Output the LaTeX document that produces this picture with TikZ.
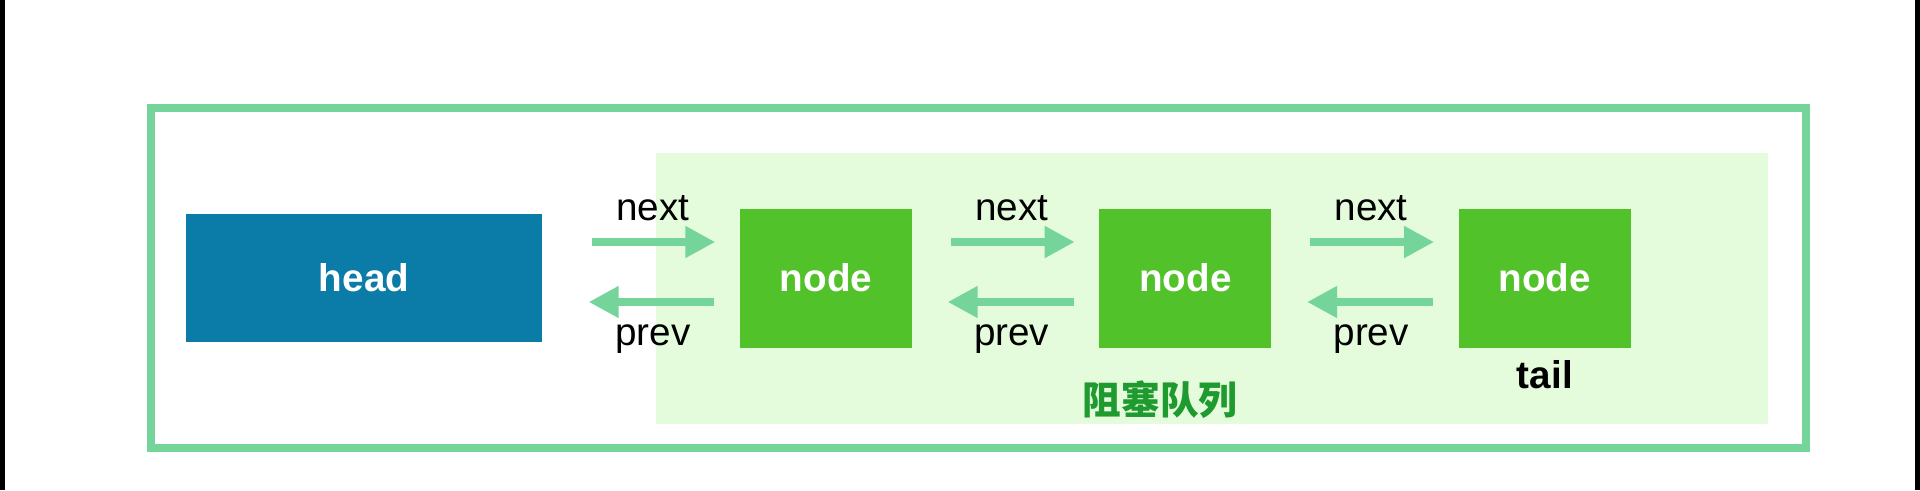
\documentclass[tikz,border=0pt]{standalone}
\usepackage{fontspec}
\setmainfont{Liberation Sans}
\newfontfamily\cjkfont{Noto Sans CJK SC}
\usepackage{xcolor}
\usetikzlibrary{arrows.meta, positioning}
\definecolor{frameGreen}{HTML}{74D49A}
\definecolor{queueFill}{HTML}{E4FBDC}
\definecolor{nodeGreen}{HTML}{52C22A}
\definecolor{headBlue}{HTML}{0B7BA8}
\definecolor{queueText}{HTML}{1F9A2E}
\tikzset{
    list/.style={font=\fontsize{11pt}{13pt}\selectfont},
    list frame/.style={draw=frameGreen, line width=0.08cm},
    list box/.style={text=white, font=\fontsize{11pt}{13pt}\selectfont\bfseries,
        inner sep=0pt},
    head box/.style={list box, fill=headBlue,
        minimum width=3.56cm, minimum height=1.28cm},
    node box/.style={list box, fill=nodeGreen,
        minimum width=1.72cm, minimum height=1.39cm},
    list arrow/.style={-{Triangle[length=0.3cm, width=0.3cm]},
        line width=0.08cm, draw=frameGreen},
    list label/.style={anchor=base, inner sep=0pt},
    tail label/.style={font=\fontsize{11pt}{13pt}\selectfont\bfseries, inner sep=0pt},
    queue label/.style={font=\fontsize{11pt}{13pt}\selectfont\cjkfont\bfseries,
        text=queueText, inner sep=0pt},
}

\begin{document}
\begin{tikzpicture}[list, x=0.1mm, y=-0.1mm]
    \useasboundingbox (0,0) rectangle (1920,490);
    \fill[white] (0,0) rectangle (1920,490);
    \fill[black] (0,0) rectangle (5,490);
    \fill[black] (1915,0) rectangle (1920,490);
    % the blocking queue and the list frame
    \fill[queueFill] (656,153) rectangle (1768,424);
    \draw[list frame] (151,108) rectangle (1806,448);

    \node[head box] (head) at (364,278) {head};
    \node[node box] (node1) at (826,278) {node};
    \node[node box, right=1.86cm of node1] (node2) {node};
    \node[node box, right=1.86cm of node2] (node3) {node};

    \foreach \a/\b/\s/\x in {head/node1/4.9mm/1.2mm, node1/node2/3.8mm/0.6mm,
        node2/node3/3.8mm/0.6mm} {
        \draw[list arrow, shorten <=\s, shorten >=2.4mm]
            ([yshift=3.6mm]\a.east) -- ([yshift=3.6mm]\b.west)
            node[list label, midway, xshift=\x, yshift=2.2mm] {next};
        \draw[list arrow, shorten <=2.5mm, shorten >=\s-0.3mm]
            ([yshift=-2.4mm]\b.west) -- ([yshift=-2.4mm]\a.east)
            node[list label, midway, xshift=\x, yshift=-4.3mm] {prev};
    }

    \node[tail label, below=1.2mm of node3] (tail) {tail};
    \node[queue label] (queue) at (1160,400) {阻塞队列};
\end{tikzpicture}
\end{document}
